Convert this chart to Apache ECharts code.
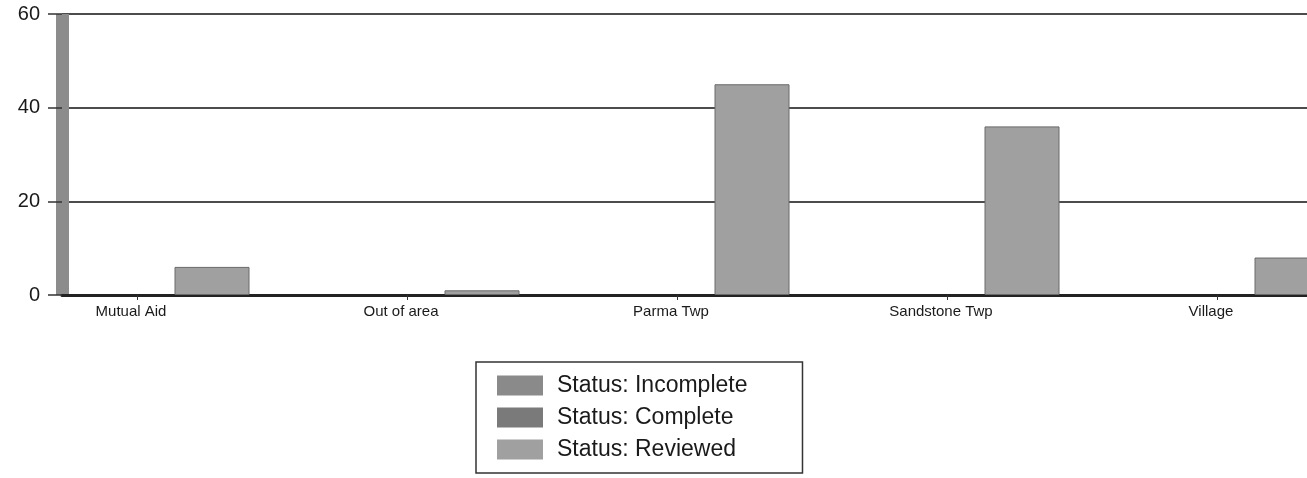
<!DOCTYPE html>
<html>
<head>
<meta charset="utf-8">
<script src="https://cdn.jsdelivr.net/npm/echarts@6/dist/echarts.min.js"></script>
<style>
  html, body { margin: 0; padding: 0; background: #fff; }
  #chart { width: 1307px; height: 478px; }
</style>
</head>
<body>
<div id="chart"></div>
<script>
const categories = ['Mutual Aid', 'Out of area', 'Parma Twp', 'Sandstone Twp', 'Village']
const seriesNames = ['Status: Incomplete', 'Status: Complete', 'Status: Reviewed']
const incomplete = [0, 0, 0, 0, 0]
const complete = [0, 0, 0, 0, 0]
const reviewed = [6, 1, 45, 36, 8]
const yTicks = [0, 20, 40, 60]

const font = "Arial, 'Liberation Sans', sans-serif"
const colors = ['#8a8a8a', '#7a7a7a', '#a0a0a0']

let myChart = echarts.init(document.getElementById('chart'))

// only the reviewed bars get an outline, the empty ones stay invisible
const barSeries = [incomplete, complete, reviewed].map((d, i) => ({
    name: seriesNames[i],
    type: 'bar',
    xAxisIndex: 1,
    yAxisIndex: 1,
    data: d,
    barWidth: 75,
    barGap: '0%',
    itemStyle: { color: colors[i], borderColor: '#6a6a6a', borderWidth: i === 2 ? 1 : 0 }
}))

myChart.setOption({
    animation: false,
    color: colors,
    grid: [
        // walls + gridlines
        { left: 62, right: 0, top: 14, bottom: 183, outerBoundsMode: 'none' },
        // bars + category labels (runs past the right edge like the scan)
        { left: 2, width: 1350, top: 14, bottom: 183, outerBoundsMode: 'none' }
    ],
    legend: {
        orient: 'vertical',
        left: 476,
        top: 362,
        padding: [12, 55, 12, 21],
        itemWidth: 46,
        itemHeight: 20,
        itemGap: 9,
        icon: 'rect',
        itemStyle: { borderWidth: 0 },
        borderColor: '#333',
        borderWidth: 1.5,
        textStyle: { fontFamily: font, fontSize: 23, color: '#1a1a1a', padding: [0, 0, 0, 9] },
        data: seriesNames
    },
    xAxis: [
        {
            type: 'category',
            gridIndex: 0,
            data: categories,
            axisLabel: { show: false },
            axisTick: { show: false },
            axisLine: { lineStyle: { color: '#222', width: 3 } }
        },
        {
            type: 'category',
            gridIndex: 1,
            data: categories,
            axisLine: { show: false },
            axisTick: { show: true, alignWithLabel: true, length: 5, lineStyle: { color: '#333' } },
            axisLabel: { fontFamily: font, fontSize: 15, color: '#1a1a1a', margin: 9, padding: [0, 12, 0, 0] }
        }
    ],
    yAxis: [
        {
            type: 'value',
            gridIndex: 0,
            min: 0,
            max: yTicks[yTicks.length - 1],
            interval: 20,
            axisLine: { show: true, lineStyle: { color: '#8c8c8c', width: 13, cap: 'butt' } },
            axisTick: { show: true, length: 14, lineStyle: { color: '#333', width: 1.5 } },
            axisLabel: { fontFamily: font, fontSize: 20, color: '#1a1a1a', margin: 22 },
            splitLine: { lineStyle: { color: '#111', width: 1.6 } }
        },
        {
            type: 'value',
            gridIndex: 1,
            min: 0,
            max: yTicks[yTicks.length - 1],
            interval: 20,
            show: false,
            splitLine: { show: false }
        }
    ],
    series: barSeries
})
</script>
</body>
</html>
